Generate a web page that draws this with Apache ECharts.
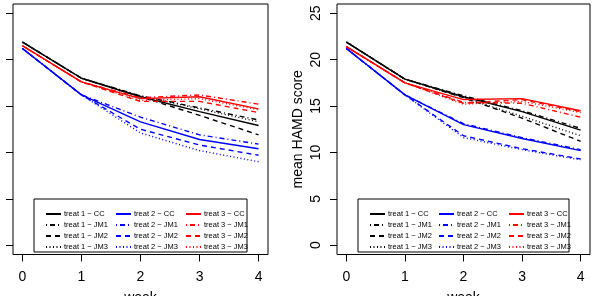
<!DOCTYPE html>
<html>
<head>
<meta charset="utf-8">
<script src="https://cdn.jsdelivr.net/npm/echarts@6/dist/echarts.min.js"></script>
<style>
  html, body { margin: 0; padding: 0; background: #fff; }
  #main { width: 596px; height: 296px; }
</style>
</head>
<body>
<div id="main"></div>
<script>
// weeks on the x axis
var weeks = [0, 1, 2, 3, 4];
var yTicks = [0, 5, 10, 15, 20, 25];

// rows: CC, JM1, JM2, JM3 (mean HAMD score per week)
var leftTreat1 = [
    [21.9, 18.0, 16.0, 14.4, 12.9],
    [21.9, 18.0, 16.1, 14.8, 13.5],
    [21.9, 18.0, 16.0, 14.0, 11.9],
    [21.9, 18.0, 16.1, 14.7, 13.3]
];
var leftTreat2 = [
    [21.2, 16.2, 13.3, 11.4, 10.4],
    [21.2, 16.2, 13.8, 11.9, 10.9],
    [21.2, 16.2, 12.5, 10.8, 9.7],
    [21.2, 16.2, 12.1, 10.2, 9.0]
];
var leftTreat3 = [
    [21.5, 17.6, 15.8, 16.0, 14.7],
    [21.5, 17.6, 15.9, 16.2, 15.2],
    [21.5, 17.6, 15.5, 15.5, 14.3],
    [21.5, 17.6, 15.6, 15.8, 14.6]
];
var rightTreat1 = [
    [21.9, 17.9, 16.0, 14.4, 12.4],
    [21.9, 17.9, 16.1, 14.5, 12.6],
    [21.9, 17.9, 15.9, 13.7, 11.2],
    [21.9, 17.9, 15.9, 13.9, 11.8]
];
var rightTreat2 = [
    [21.2, 16.2, 13.0, 11.5, 10.2],
    [21.2, 16.2, 13.1, 11.6, 10.3],
    [21.2, 16.2, 11.8, 10.4, 9.3],
    [21.2, 16.2, 11.6, 10.3, 9.2]
];
var rightTreat3 = [
    [21.4, 17.5, 15.7, 15.8, 14.5],
    [21.4, 17.5, 15.4, 15.3, 13.8],
    [21.4, 17.5, 15.3, 15.7, 14.4],
    [21.4, 17.5, 15.2, 15.5, 14.3]
];

var methods = ['CC', 'JM1', 'JM2', 'JM3'];
var treatColors = ['#000000', '#0000ff', '#ff0000'];
var dashTypes = ['solid', [1, 3, 5, 3], [5, 4], [1, 2.5]];

var font = 'Liberation Sans, Arial, sans-serif';

// R-style axis ranges: data range padded 4% on each side
var xPad = 0.04 * (weeks[weeks.length - 1] - weeks[0]);
var yPad = 0.04 * (yTicks[yTicks.length - 1] - yTicks[0]);

var panels = [
    { grid: { left: 13, top: 4, width: 255, height: 250.5 }, data: [leftTreat1, leftTreat2, leftTreat3], legendX: [40, 110, 180], showYName: false },
    { grid: { left: 337, top: 4, width: 253, height: 250.5 }, data: [rightTreat1, rightTreat2, rightTreat3], legendX: [364, 433, 503], showYName: true }
];

var grids = [], xAxes = [], yAxes = [], series = [], legends = [];

panels.forEach(function (p, pi) {
    var g = p.grid;
    g.show = true;
    g.borderColor = '#000';
    g.borderWidth = 1;
    g.backgroundColor = 'transparent';
    g.containLabel = false;
    g.outerBoundsMode = 'none';
    grids.push(g);
    xAxes.push({
        type: 'value', gridIndex: pi,
        min: weeks[0] - xPad, max: weeks[weeks.length - 1] + xPad,
        name: 'week', nameLocation: 'middle', nameGap: 36.5,
        nameTextStyle: { fontFamily: font, fontSize: 14, color: '#000' },
        axisLine: { show: false, onZero: false },
        axisTick: { show: true, inside: false, length: 7, customValues: weeks, lineStyle: { color: '#000' } },
        axisLabel: { fontFamily: font, fontSize: 14, color: '#000', margin: 16, customValues: weeks },
        splitLine: { show: false }
    });
    yAxes.push({
        type: 'value', gridIndex: pi,
        min: yTicks[0] - yPad, max: yTicks[yTicks.length - 1] + yPad,
        name: p.showYName ? 'mean HAMD score' : '', nameLocation: 'middle', nameGap: 32,
        nameTextStyle: { fontFamily: font, fontSize: 14, color: '#000' },
        axisLine: { show: false, onZero: false },
        axisTick: { show: true, inside: false, length: 7, customValues: yTicks, lineStyle: { color: '#000' } },
        axisLabel: { show: p.showYName, fontFamily: font, fontSize: 14, color: '#000', rotate: 90, margin: 14, customValues: yTicks },
        splitLine: { show: false }
    });
    p.data.forEach(function (rows, ti) {
        var names = [];
        rows.forEach(function (vals, mi) {
            var name = 'treat ' + (ti + 1) + ' \u2212 ' + methods[mi];
            names.push(name);
            series.push({
                name: name, type: 'line',
                xAxisIndex: pi, yAxisIndex: pi,
                symbol: 'none', smooth: false, silent: true,
                lineStyle: { color: treatColors[ti], width: 1.4, type: dashTypes[mi] },
                itemStyle: { color: treatColors[ti] },
                data: weeks.map(function (w, k) { return [w, vals[k]]; })
            });
        });
        legends.push({
            data: names, orient: 'vertical',
            left: p.legendX[ti], top: 205,
            itemWidth: 15, itemHeight: 8, itemGap: 3,
            selectedMode: false,
            itemStyle: { color: 'rgba(0,0,0,0)', borderWidth: 0 },
            textStyle: { fontFamily: font, fontSize: 7.5, color: '#000', padding: [0, 0, 0, -2] }
        });
    });
});

// legend frames
var frames = [
    { type: 'rect', shape: { x: 34, y: 199, width: 213, height: 53 } },
    { type: 'rect', shape: { x: 358, y: 199, width: 211, height: 53 } }
];
frames.forEach(function (f) {
    f.style = { fill: 'none', stroke: '#000', lineWidth: 1 };
    f.silent = true;
    f.z = 10;
});

var option = {
    animation: false,
    backgroundColor: '#fff',
    grid: grids,
    xAxis: xAxes,
    yAxis: yAxes,
    legend: legends,
    graphic: frames,
    series: series
};

var myChart = echarts.init(document.getElementById('main'));
myChart.setOption(option);
</script>
</body>
</html>
